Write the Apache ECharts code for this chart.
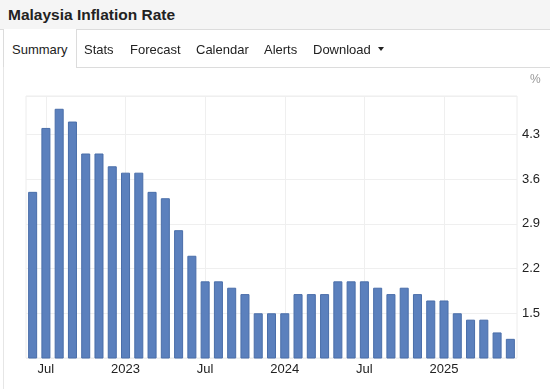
<!DOCTYPE html>
<html>
<head>
<meta charset="utf-8">
<script src="https://cdn.jsdelivr.net/npm/echarts@6/dist/echarts.min.js"></script>
<style>
  html, body { margin: 0; padding: 0; width: 550px; height: 389px; overflow: hidden; background: #fff;
    font-family: "Liberation Sans", Arial, Helvetica, sans-serif; }
  #chart { position: absolute; left: 0; top: 0; width: 550px; height: 389px; }
  #header { position: absolute; left: 0; top: 0; width: 550px; height: 29px; background: #f5f5f5;
    border-bottom: 1px solid #dcdcdc; z-index: 2; }
  #title { position: absolute; left: 8px; top: 6px; font-size: 15.5px; font-weight: bold; color: #222; }
  #tabline { position: absolute; left: 76px; top: 67px; width: 474px; height: 1px; background: #dcdcdc; z-index: 2; }
  #activetab { position: absolute; left: 3px; top: 29px; width: 72px; height: 39px; border-left: 1px solid #dcdcdc;
    border-right: 1px solid #dcdcdc; background: #fff; z-index: 2; }
  #panelleft { position: absolute; left: 3px; top: 67px; width: 1px; height: 322px; background: #e6e6e6; z-index: 2; }
  .tab { position: absolute; top: 42px; font-size: 13px; color: #222; z-index: 3; }
  .caret { position: absolute; left: 378px; top: 47px; width: 0; height: 0; border-left: 3.5px solid transparent;
    border-right: 3.5px solid transparent; border-top: 4px solid #222; z-index: 3; }
</style>
</head>
<body>
<div id="chart"></div>
<div id="header"><div id="title">Malaysia Inflation Rate</div></div>
<div id="activetab"></div>
<div id="tabline"></div>
<div id="panelleft"></div>
<div class="tab" style="left:12px">Summary</div>
<div class="tab" style="left:84px">Stats</div>
<div class="tab" style="left:130px">Forecast</div>
<div class="tab" style="left:196px">Calendar</div>
<div class="tab" style="left:264px">Alerts</div>
<div class="tab" style="left:313px">Download</div>
<div class="caret"></div>
<script>
const categories = [
  "2022-06","2022-07","2022-08","2022-09","2022-10","2022-11","2022-12",
  "2023-01","2023-02","2023-03","2023-04","2023-05","2023-06","2023-07","2023-08","2023-09","2023-10","2023-11","2023-12",
  "2024-01","2024-02","2024-03","2024-04","2024-05","2024-06","2024-07","2024-08","2024-09","2024-10","2024-11","2024-12",
  "2025-01","2025-02","2025-03","2025-04","2025-05","2025-06"
];
const inflation = [
  3.4, 4.4, 4.7, 4.5, 4.0, 4.0, 3.8,
  3.7, 3.7, 3.4, 3.3, 2.8, 2.4, 2.0, 2.0, 1.9, 1.8, 1.5, 1.5,
  1.5, 1.8, 1.8, 1.8, 2.0, 2.0, 2.0, 1.9, 1.8, 1.9, 1.8, 1.7,
  1.7, 1.5, 1.4, 1.4, 1.2, 1.1
];
const yTicks = [0.8, 1.5, 2.2, 2.9, 3.6, 4.3];

function isLabelled(i) {
  const m = categories[i].slice(5);
  return m === "01" || m === "07";
}
function fmtLabel(v) {
  const m = v.slice(5);
  return m === "01" ? v.slice(0, 4) : "Jul";
}

const chart = echarts.init(document.getElementById('chart'));
chart.setOption({
  animation: false,
  grid: { left: 26, right: 33, top: 96, bottom: 31, show: true, borderColor: '#ececec', borderWidth: 1 },
  xAxis: {
    type: 'category',
    data: categories,
    boundaryGap: true,
    axisLine: { show: false },
    axisTick: { show: false, alignWithLabel: true },
    axisLabel: { interval: (i) => isLabelled(i), formatter: fmtLabel, color: '#222', fontSize: 13, margin: 5,
      fontFamily: 'Liberation Sans, Arial, sans-serif' },
    splitLine: { show: true, interval: (i) => isLabelled(i), alignWithLabel: true, lineStyle: { color: '#efefef', width: 1 } }
  },
  yAxis: {
    type: 'value',
    position: 'right',
    min: yTicks[0],
    max: 4.9,
    interval: 0.7,
    name: '%',
    nameLocation: 'end',
    nameGap: 10,
    nameTextStyle: { color: '#999', fontSize: 12, align: 'left', padding: [0, 0, 0, 13] },
    axisLine: { show: false },
    axisTick: { show: false },
    axisLabel: { showMinLabel: false, showMaxLabel: false, color: '#222', fontSize: 13, margin: 5,
      fontFamily: 'Liberation Sans, Arial, sans-serif',
      formatter: (v) => v.toFixed(1) },
    splitLine: { show: true, lineStyle: { color: '#efefef', width: 1 } }
  },
  series: [{
    type: 'bar',
    data: inflation,
    barWidth: '68%',
    itemStyle: { color: '#5b80bd', borderColor: '#4a6ea9', borderWidth: 1 }
  }]
});
</script>
</body>
</html>
